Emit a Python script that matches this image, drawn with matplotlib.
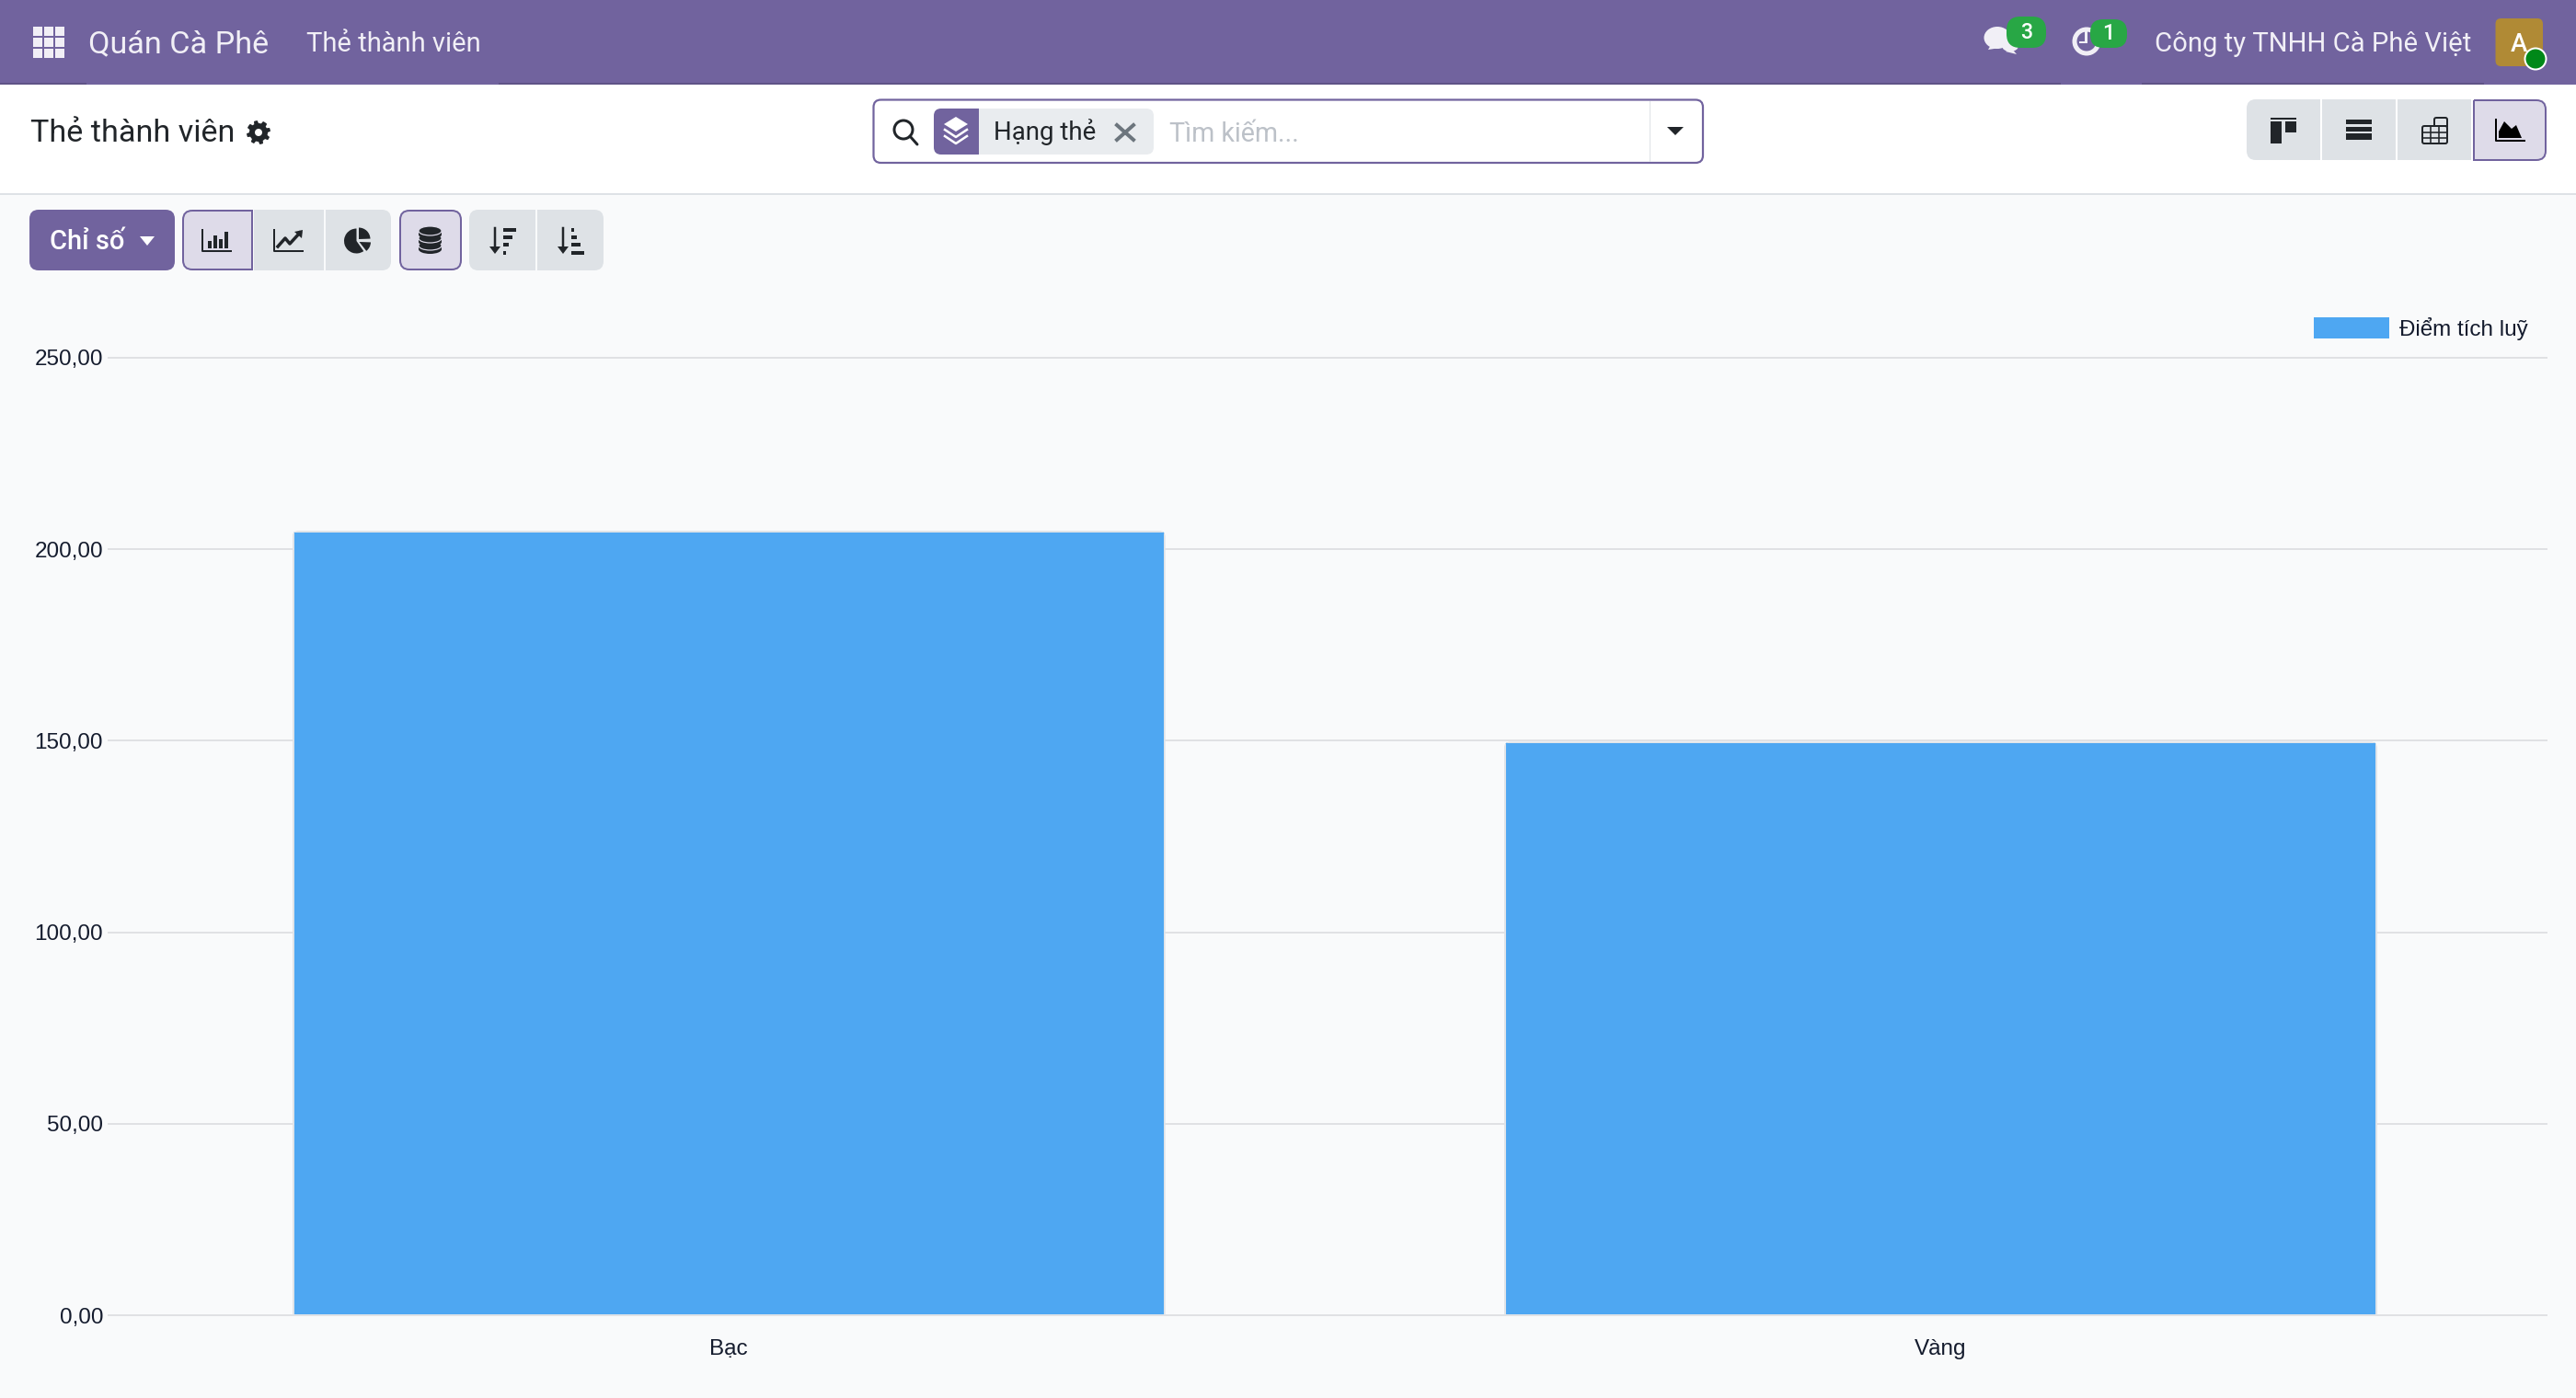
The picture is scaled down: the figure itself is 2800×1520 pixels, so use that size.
import numpy as np
import matplotlib
matplotlib.use("Agg")
import matplotlib.pyplot as plt
from matplotlib.path import Path
from matplotlib.patches import PathPatch, Rectangle, Circle, Wedge, Ellipse, Polygon, FancyBboxPatch
from matplotlib.textpath import TextPath
from matplotlib.font_manager import FontProperties
from matplotlib.ticker import FuncFormatter, FixedLocator
from matplotlib.transforms import IdentityTransform

# ---- data ----
categories = ["Bạc", "Vàng"]
points = [204.6, 149.5]
series_name = "Điểm tích luỹ"
y_ticks = [0, 50, 100, 150, 200, 250]

# ---- colours ----
PURPLE = "#71639e"
PURPLE_DK = "#5f5386"
BAR = "#4ea7f2"
BG = "#f9fafb"
BTN = "#dee2e6"
ACTIVE = "#dedbe9"
INK = "#212529"
NAV = "#f1eff6"
GREEN = "#28a745"

W, H, DPI = 2800, 1520, 100
PT = 72 / DPI
fig = plt.figure(figsize=(W / DPI, H / DPI), dpi=DPI, facecolor=BG)

# ---- UI layer in pixel coordinates ----
ui = fig.add_axes([0, 0, 1, 1], zorder=0)
ui.set_xlim(0, W)
ui.set_ylim(H, 0)
ui.axis("off")


def rrect(x0, y0, x1, y1, r=(0, 0, 0, 0), **kw):
    tl, tr, br, bl = r
    v = [(x0 + tl, y0), (x1 - tr, y0), (x1, y0), (x1, y0 + tr), (x1, y1 - br), (x1, y1),
         (x1 - br, y1), (x0 + bl, y1), (x0, y1), (x0, y1 - bl), (x0, y0 + tl), (x0, y0), (x0 + tl, y0)]
    c = [Path.MOVETO, Path.LINETO, Path.CURVE3, Path.CURVE3, Path.LINETO, Path.CURVE3, Path.CURVE3,
         Path.LINETO, Path.CURVE3, Path.CURVE3, Path.LINETO, Path.CURVE3, Path.CURVE3]
    kw.setdefault("lw", 0)
    p = PathPatch(Path(v, c), **kw)
    ui.add_patch(p)
    return p


def box(x0, y0, x1, y1, color):
    ui.add_patch(Rectangle((x0, y0), x1 - x0, y1 - y0, fc=color, ec="none", lw=0))


def fit(x, base, s, width, color=INK, family="Roboto", ha="left", weight="normal"):
    fp = FontProperties(family=family, weight=weight)
    w = TextPath((0, 0), s, size=100, prop=fp).get_extents().width
    return ui.text(x, base, s, fontsize=100 * width / w * PT * 0.99, color=color, family=family,
                   ha=ha, va="baseline", weight=weight)


# panels
box(0, 0, W, 92, PURPLE)
for a, b in [(0, 94), (542, 2240), (2328, 2700)]:
    box(a, 89.5, b, 92, PURPLE_DK)
box(0, 92, W, 210, "white")
box(0, 210, W, 212, BTN)

# app grid icon
for i in range(3):
    for j in range(3):
        box(36 + i * 12, 29 + j * 12, 46 + i * 12, 39 + j * 12, NAV)

fit(96, 57, "Quán Cà Phê", 195, NAV)
fit(333, 56, "Thẻ thành viên", 189, NAV)
fit(33, 154, "Thẻ thành viên", 221, INK)

# gear
ang = np.linspace(0, 2 * np.pi, 64, endpoint=False)
rad = np.where(((ang + np.pi / 8) % (np.pi / 4)) < np.pi / 8, 13, 10)
ui.add_patch(Polygon(np.c_[281 + rad * np.cos(ang), 144 + rad * np.sin(ang)], fc=INK, lw=0))
ui.add_patch(Circle((281, 144), 4, fc="white", lw=0))

# top right: chat
NAVC = dict(fc=NAV, lw=0)
ui.add_patch(Ellipse((2171, 41), 29, 24, **NAVC))
ui.add_patch(Polygon([(2165, 47), (2174, 52), (2161, 54)], **NAVC))
ui.add_patch(Ellipse((2185, 50), 18, 12, **NAVC))
ui.add_patch(Polygon([(2186, 52), (2192, 59), (2180, 56)], **NAVC))
rrect(2181, 18, 2224, 52, (15, 15, 15, 15), fc=GREEN)
fit(2203, 42, "3", 11, "white", ha="center", weight="medium")
# clock
ui.add_patch(Wedge((2268, 45), 15.5, 0, 360, width=5, fc=NAV, lw=0))
box(2266, 34, 2269, 47, NAV)
box(2260, 44.5, 2269, 47, NAV)
rrect(2272, 21, 2312, 52, (14, 14, 14, 14), fc=GREEN)
fit(2292, 43, "1", 7, "white", ha="center", weight="medium")
fit(2341.5, 56, "Công ty TNHH Cà Phê Việt", 345, NAV)
rrect(2712.5, 20, 2764, 72, (6, 6, 6, 6), fc="#b08a35")
fit(2738, 56, "A", 18, "white", ha="center", weight="medium")
ui.add_patch(Circle((2756, 64), 11.5, fc="#008818", ec="white", lw=2 * PT))

# search box
rrect(949.5, 108.5, 1851, 177, (8, 8, 8, 8), fc="white", ec=PURPLE, lw=2.2 * PT)
box(1792.5, 110, 1794, 176, BTN)
ui.add_patch(Circle((982, 141), 10, fc="none", ec=INK, lw=3 * PT))
ui.plot([989, 997], [148, 157], color=INK, lw=3 * PT, solid_capstyle="round")
rrect(1015, 118, 1254, 168, (8, 8, 8, 8), fc="#e9ecef")
rrect(1015, 118, 1064, 168, (8, 0, 0, 8), fc=PURPLE)
ui.add_patch(Polygon([(1039, 127), (1052, 135), (1039, 143), (1026, 135)], fc="white", lw=0))
for dy in (0, 7):
    ui.plot([1027, 1039, 1051], [141 + dy, 149 + dy, 141 + dy], color="white", lw=2.5 * PT)
fit(1080, 152.5, "Hạng thẻ", 109, INK)
for sgn in (1, -1):
    ui.plot([1214, 1232], [144 - sgn * 8, 144 + sgn * 8], color="#6c757d", lw=4 * PT)
fit(1271, 153.5, "Tìm kiếm...", 139, "#bcc1c8")
ui.add_patch(Polygon([(1812, 138), (1830, 138), (1821, 147)], fc=INK, lw=0))

# view switch buttons
rrect(2442, 108, 2522, 174, (10, 0, 0, 10), fc=BTN)
box(2524, 108, 2604, 174, BTN)
box(2606, 108, 2686, 174, BTN)
rrect(2689, 109, 2767, 174, (0, 10, 10, 0), fc=ACTIVE, ec=PURPLE, lw=2 * PT)
box(2468, 128, 2496, 130, INK)
box(2468, 132, 2480, 156, INK)
box(2484, 132, 2496, 144, INK)
for y in (130, 137.5, 145):
    box(2550, y, 2578, y + 5, INK)
box(2550, 147.5, 2578, 152, INK)
rrect(2633, 137, 2660, 156, (2, 2, 2, 2), fc="none", ec=INK, lw=2 * PT)
rrect(2646, 128, 2660, 137, (2, 2, 0, 0), fc="none", ec=INK, lw=2 * PT)
for x in (2642, 2651):
    ui.plot([x, x], [137, 156], color=INK, lw=1.6 * PT)
for y in (143.5, 150):
    ui.plot([2633, 2660], [y, y], color=INK, lw=1.6 * PT)
ui.plot([2713, 2713, 2744], [130, 153, 153], color="black", lw=2 * PT)
ui.add_patch(Polygon([(2716, 150), (2716, 143), (2722, 132), (2730, 140), (2735, 136), (2741, 150)], fc="black", lw=0))

# toolbar
rrect(32, 228, 190, 294, (10, 10, 10, 10), fc=PURPLE)
fit(54, 271, "Chỉ số", 82, "white", weight="medium")
ui.add_patch(Polygon([(152, 257), (168, 257), (160, 267)], fc="white", lw=0))

rrect(199, 229, 274, 293, (10, 0, 0, 10), fc=ACTIVE, ec=PURPLE, lw=2 * PT)
box(276, 228, 352, 294, BTN)
rrect(354, 228, 425, 294, (0, 10, 10, 0), fc=BTN)
rrect(435, 229, 501, 293, (10, 10, 10, 10), fc=ACTIVE, ec=PURPLE, lw=2 * PT)
rrect(510, 228, 582, 294, (10, 0, 0, 10), fc=BTN)
rrect(584, 228, 656, 294, (0, 10, 10, 0), fc=BTN)

# bar icon
ui.plot([220, 220, 251], [250, 273, 273], color=INK, lw=2 * PT)
for x, t in [(226, 262), (232, 256), (238, 260), (244, 252)]:
    box(x, t, x + 3.5, 270, INK)
# line icon
ui.plot([298, 298, 329], [250, 273, 273], color=INK, lw=2 * PT)
ui.plot([302, 310, 315, 326], [268, 259, 265, 253], color=INK, lw=3.5 * PT)
ui.add_patch(Polygon([(320, 252), (329, 250), (328, 259)], fc=INK, lw=0))
# pie icon (the pixel axes run downward, so wedge angles run clockwise on screen)
ui.add_patch(Wedge((387.5, 262), 13.5, 55, 270, fc=INK, lw=0))
ui.add_patch(Wedge((390, 260), 12.5, 270, 358, fc=INK, lw=0))
ui.add_patch(Wedge((390.5, 263), 12.5, 2, 52, fc=INK, lw=0))
# database icon (stacked cylinders)
for yc in (269, 261, 253):
    box(455, yc - 2, 480, yc + 2, INK)
    ui.add_patch(Ellipse((467.5, yc + 2), 25, 10, fc=INK, lw=0))
    ui.add_patch(Ellipse((467.5, yc - 2), 25, 10, fc=INK, ec=ACTIVE, lw=1.2 * PT))
# sort icons
for x0, rows in [(532, [(18, 248), (13, 256), (8, 264), (4, 273)]), (606, [(4, 248), (8, 256), (13, 264), (18, 273)])]:
    ui.plot([x0 + 6, x0 + 6], [248, 272], color=INK, lw=2.5 * PT)
    ui.add_patch(Polygon([(x0, 268), (x0 + 12, 268), (x0 + 6, 276)], fc=INK, lw=0))
    for wd, y in rows:
        box(x0 + 15, y, x0 + 15 + wd * 0.75, y + 3.5, INK)

# ---- chart ----
L, R, T, B = 133.5, 2768, 389, 1430
ax = fig.add_axes([L / W, 1 - B / H, (R - L) / W, (B - T) / H], zorder=1)
ax.patch.set_alpha(0)
for s in ax.spines.values():
    s.set_visible(False)

x = np.arange(len(categories))
bars = ax.bar(x, points, width=0.719, color=BAR, edgecolor="#dfe3e8", linewidth=2 * PT, label=series_name, zorder=3)
ax.set_xlim(-0.5, len(categories) - 0.5)
ax.set_ylim(0, 250)
ax.set_xticks(x, categories)
ax.yaxis.set_major_locator(FixedLocator(y_ticks))
ax.yaxis.set_major_formatter(FuncFormatter(lambda v, _: f"{v:.2f}".replace(".", ",")))
GRID = "#e0e1e4"
ax.set_axisbelow(True)
ax.grid(axis="y", color=GRID, lw=2 * PT)
ax.tick_params(axis="y", length=17 * PT, width=2 * PT, color=GRID, pad=4.5 * PT,
               labelsize=24.3 * PT, labelcolor="#141b2d")
ax.tick_params(axis="x", length=0, pad=26 * PT, labelsize=24.3 * PT, labelcolor="#141b2d")
for lb in ax.get_xticklabels() + ax.get_yticklabels():
    lb.set_family("Liberation Sans")
for gl in ax.get_ygridlines():
    gl.set_clip_on(False)
for tk in ax.yaxis.get_major_ticks():
    tk.tick1line.set_clip_on(False)

# slightly rounded top corners on the bars
for r in bars:
    (px0, py0), (px1, py1) = ax.transData.transform([(r.get_x(), 0), (r.get_x() + r.get_width(), r.get_height())])
    clip = FancyBboxPatch((px0 - 1, py0 - 30), px1 - px0 + 2, py1 - py0 + 31, boxstyle="round,pad=0,rounding_size=7",
                          transform=IdentityTransform())
    r.set_clip_path(clip)

leg = ax.legend(loc="upper right", bbox_to_anchor=((2748 - L) / (R - L), 1 + (T - 345) / (B - T)),
                frameon=False, prop=FontProperties(family="Liberation Sans", size=24.3 * PT),
                borderpad=0, borderaxespad=0, handlelength=82 / 24.3, handleheight=26 / 24.3, handletextpad=11 / 24.3,
                labelcolor="#141b2d")
for h in leg.legend_handles:
    h.set_edgecolor("none")

fig.savefig("out.png", dpi=DPI, facecolor=fig.get_facecolor())
